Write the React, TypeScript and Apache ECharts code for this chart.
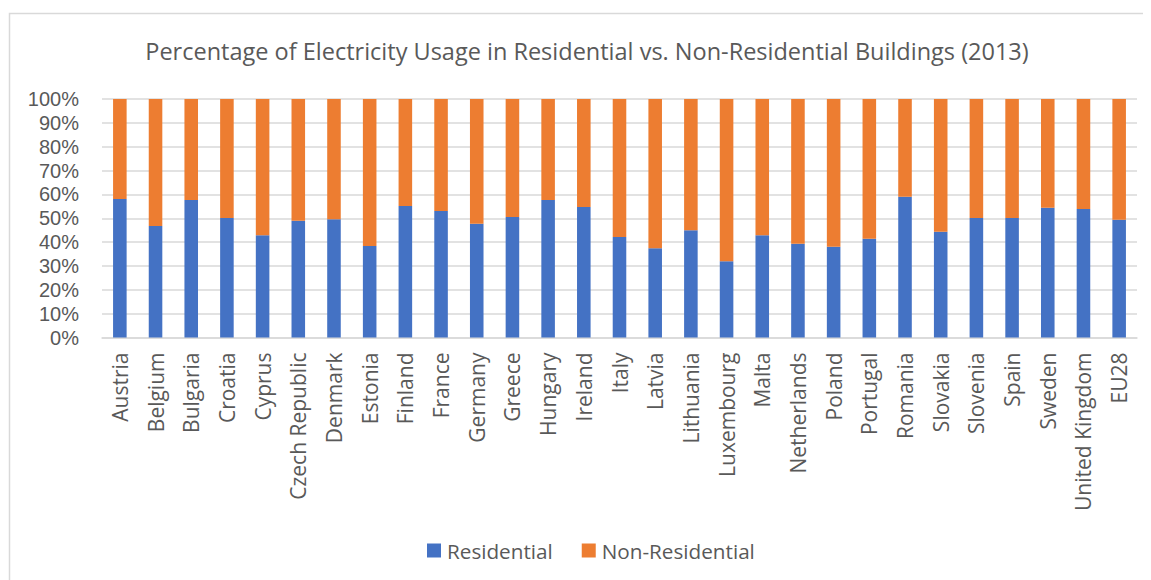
import React, { useEffect, useRef } from "react";
import * as echarts from "echarts";

// Share of electricity used in residential buildings per country, 2013 (%)
const countries: string[] = [
  "Austria", "Belgium", "Bulgaria", "Croatia", "Cyprus", "Czech Republic", "Denmark",
  "Estonia", "Finland", "France", "Germany", "Greece", "Hungary", "Ireland", "Italy",
  "Latvia", "Lithuania", "Luxembourg", "Malta", "Netherlands", "Poland", "Portugal",
  "Romania", "Slovakia", "Slovenia", "Spain", "Sweden", "United Kingdom", "EU28",
];

const residential: number[] = [
  58.1, 46.7, 57.6, 50.1, 42.9, 48.9, 49.6,
  38.4, 55.1, 53.0, 47.7, 50.5, 57.6, 54.7, 42.1,
  37.4, 45.0, 32.0, 42.9, 39.3, 38.1, 41.4,
  59.0, 44.3, 50.1, 50.1, 54.4, 53.9, 49.4,
];

// Remainder of each country's total
const nonResidential: number[] = residential.map((v) => +(100 - v).toFixed(1));

const yTicks: number[] = [0, 10, 20, 30, 40, 50, 60, 70, 80, 90, 100];

const TEXT = "#595959";
const GRID = "#d9d9d9";
const FONT = "'Open Sans', 'Noto Sans', sans-serif";
// Tighter vertical metrics so the stacked percentage labels don't collide
const AXIS_FONT = "'Liberation Sans', Arial, sans-serif";

export default function App() {
  const ref = useRef<HTMLDivElement>(null);

  useEffect(() => {
    if (!ref.current) return;
    const chart = echarts.init(ref.current, undefined, { renderer: "svg" });
    chart.setOption({
      animation: false,
      backgroundColor: "#ffffff",
      textStyle: { fontFamily: FONT, color: TEXT },
      graphic: [
        {
          type: "rect",
          silent: true,
          shape: { x: 1.5, y: 5.5, width: 1200, height: 700 },
          style: { fill: "none", stroke: GRID, lineWidth: 1.5 },
        },
      ],
      title: {
        text: "Percentage of Electricity Usage in Residential vs. Non-Residential Buildings (2013)",
        left: 574,
        textAlign: "center",
        top: 26,
        textStyle: { fontFamily: FONT, fontSize: 23.5, fontWeight: "normal", color: TEXT },
      },
      legend: {
        left: 414,
        top: 527,
        itemWidth: 14,
        itemHeight: 14,
        itemGap: 29,
        icon: "rect",
        textStyle: { fontFamily: FONT, fontSize: 20.7, color: TEXT, padding: [0, 0, 0, 1] },
        data: ["Residential", "Non-Residential"],
      },
      grid: { left: 94, right: 14, top: 91, bottom: 242.5, containLabel: false },
      xAxis: {
        type: "category",
        data: countries,
        axisLine: { show: true, lineStyle: { color: GRID, width: 1.5 } },
        axisTick: { show: false },
        axisLabel: {
          interval: 0,
          rotate: 90,
          margin: 15,
          fontSize: 21,
          color: TEXT,
          fontFamily: FONT,
        },
      },
      yAxis: {
        type: "value",
        min: yTicks[0],
        max: yTicks[yTicks.length - 1],
        interval: 10,
        axisLine: { show: false },
        axisTick: { show: false },
        splitLine: { lineStyle: { color: GRID, width: 1.5 } },
        axisLabel: {
          margin: 23,
          fontSize: 20,
          color: TEXT,
          fontFamily: AXIS_FONT,
          formatter: (v: number) => `${v}%`,
        },
      },
      series: [
        {
          name: "Residential",
          type: "bar",
          stack: "total",
          barWidth: "38%",
          itemStyle: { color: "#4472c4" },
          data: residential,
        },
        {
          name: "Non-Residential",
          type: "bar",
          stack: "total",
          barWidth: "38%",
          itemStyle: { color: "#ed7d31" },
          data: nonResidential,
        },
      ],
    });
    return () => chart.dispose();
  }, []);

  return <div ref={ref} style={{ width: 1143, height: 572 }} />;
}
